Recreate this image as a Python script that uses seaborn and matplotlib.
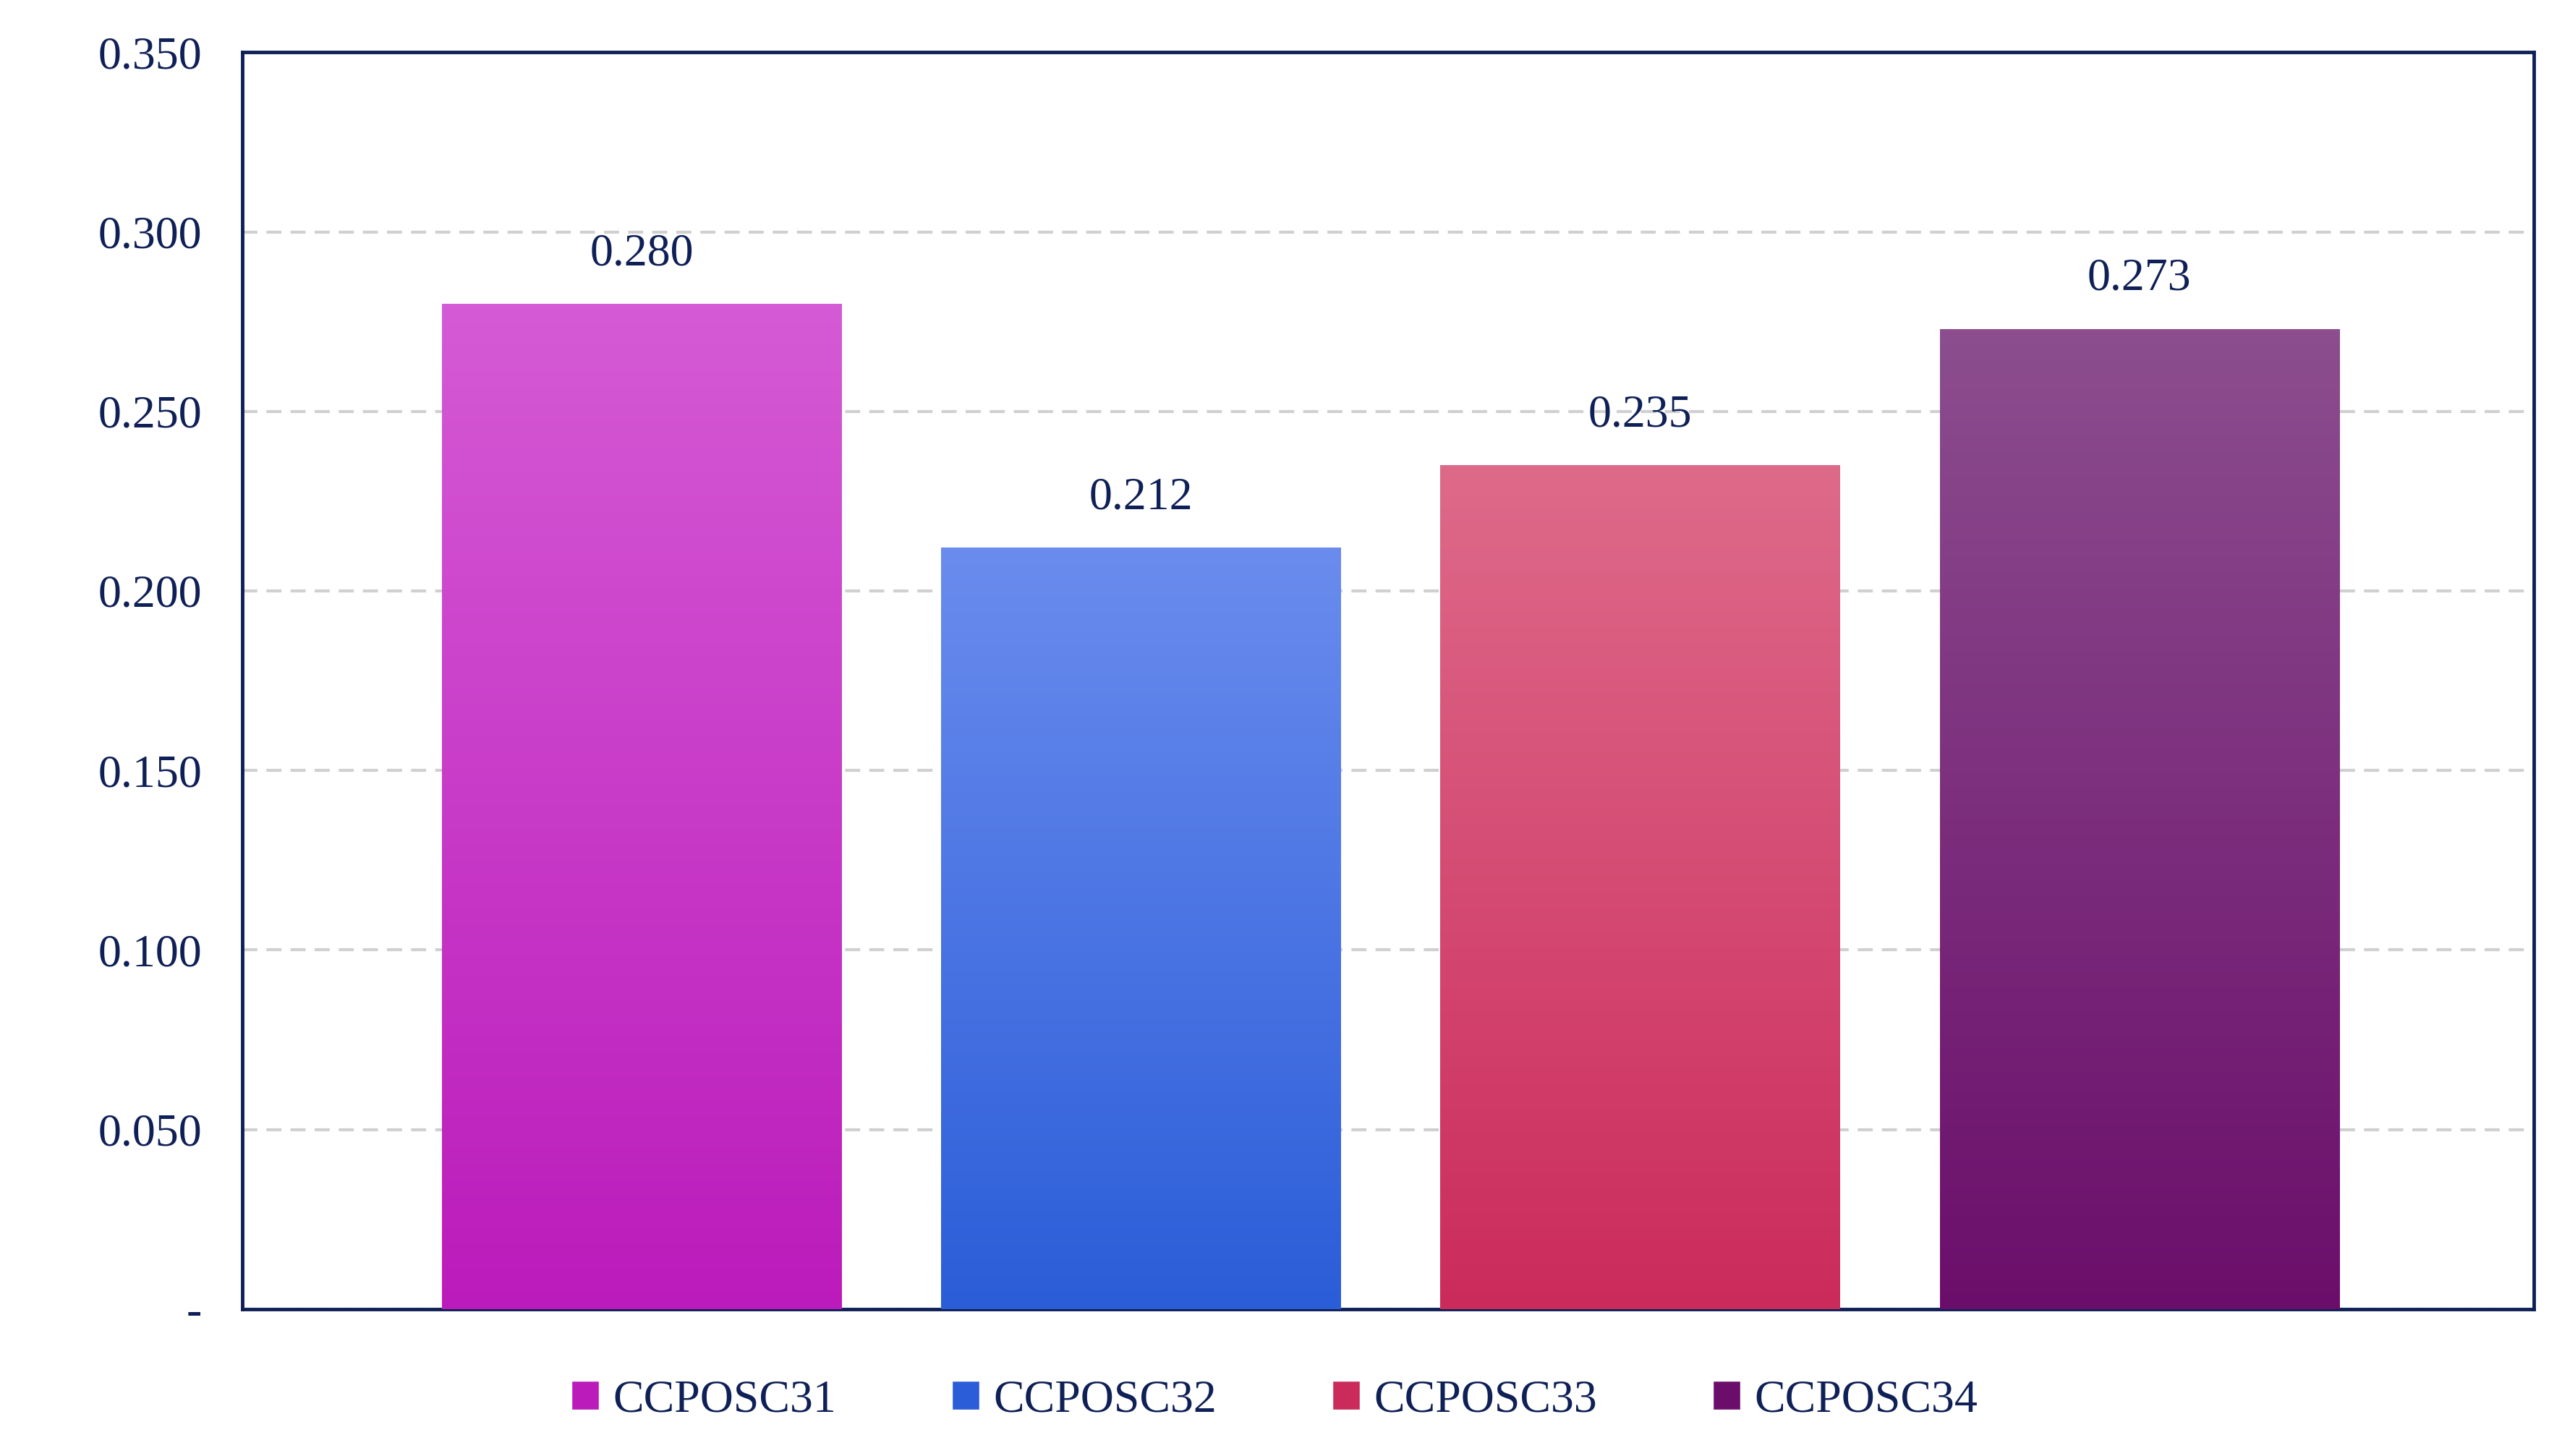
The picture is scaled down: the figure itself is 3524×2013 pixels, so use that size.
import matplotlib
matplotlib.use("Agg")
import matplotlib.pyplot as plt
import matplotlib.colors as mcolors
import seaborn as sns
import numpy as np
import pandas as pd
from matplotlib.patches import Patch

categories = ["CCPOSC31", "CCPOSC32", "CCPOSC33", "CCPOSC34"]
values = [0.280, 0.212, 0.235, 0.273]
top_colors = ["#d55ad5", "#6a8cee", "#de6a8a", "#8c4e8e"]
bottom_colors = ["#bb1bbb", "#2b5dd8", "#cb2b5b", "#6b0e6b"]
yticks = [0, 0.05, 0.10, 0.15, 0.20, 0.25, 0.30, 0.35]

navy = "#0f2057"
sns.set_theme(style="white")
plt.rcParams['font.family'] = ['Liberation Serif', 'DejaVu Serif']

fig = plt.figure(figsize=(35.24, 20.13), dpi=100)
ax = fig.add_axes([0.095, 0.101, 0.899, 0.863])
df = pd.DataFrame({"cat": categories, "val": values})
sns.barplot(data=df, x="cat", y="val", hue="cat", palette=bottom_colors, width=0.8,
            ax=ax, legend=False, zorder=3)

for p, tc, bc in zip(ax.patches, top_colors, bottom_colors):
    x0, y0 = p.get_x(), p.get_y()
    w, h = p.get_width(), p.get_height()
    cmap = mcolors.LinearSegmentedColormap.from_list("g", [bc, tc])
    grad = np.linspace(0, 1, 256).reshape(-1, 1)
    im = ax.imshow(grad, cmap=cmap, aspect="auto", origin="lower",
                   extent=[x0, x0 + w, y0, y0 + h], zorder=3)
    im.set_clip_path(p)
    p.set_alpha(0)
    ax.text(x0 + w / 2, h + 0.008, f"{h:.3f}", ha="center", va="bottom",
            fontsize=46, color=navy)

ax.set_xlim(-0.8, 3.79)
ax.set_ylim(0, 0.35)
ax.set_yticks(yticks)
ax.set_yticklabels(["-"] + [f"{t:.3f}" for t in yticks[1:]], fontsize=46, color=navy)
ax.set_xticks([])
ax.set_xlabel("")
ax.set_ylabel("")
ax.tick_params(axis="y", length=0, pad=40)
ax.yaxis.grid(True, linestyle=(0, (5, 3)), color="#d0d0d0", linewidth=3, zorder=0)
ax.set_axisbelow(True)
for s in ax.spines.values():
    s.set_color(navy)
    s.set_linewidth(3.5)

handles = [Patch(facecolor=c, label=l) for c, l in zip(bottom_colors, categories)]
fig.legend(handles=handles, loc="lower center", ncol=4, frameon=False,
           bbox_to_anchor=(0.5, -0.005), fontsize=46, labelcolor=navy,
           handlelength=0.6, handleheight=0.6, handletextpad=0.3, columnspacing=2.5)

fig.savefig("out.png", dpi=100)
